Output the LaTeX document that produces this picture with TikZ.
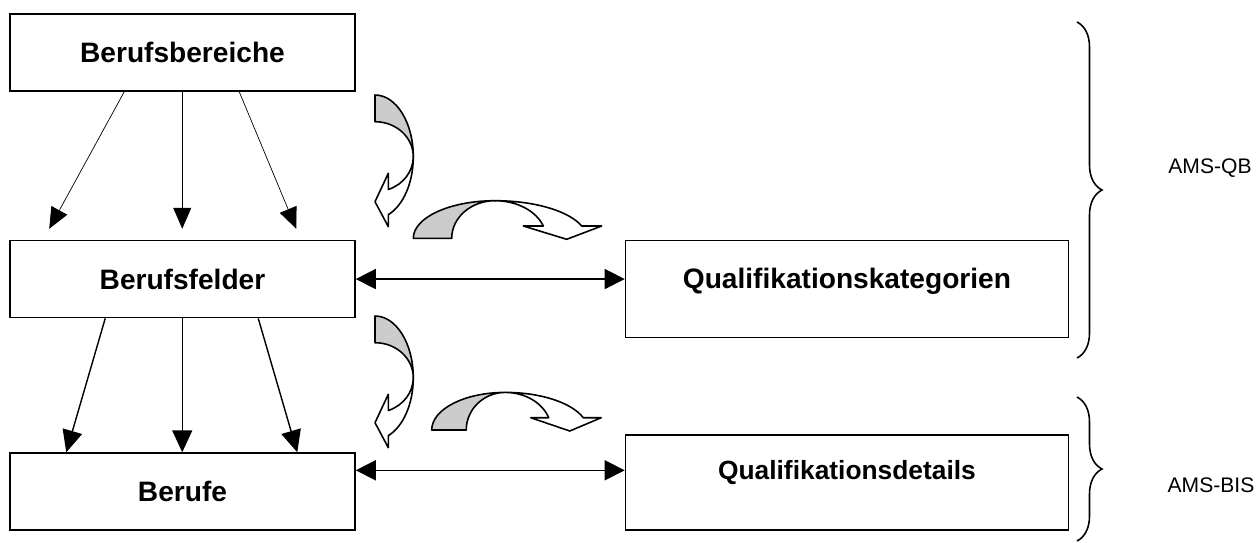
\documentclass[tikz,border=0pt]{standalone}
\usepackage{fontspec}
\setmainfont{Liberation Sans}
\usepackage{xcolor}
\definecolor{bendGray}{HTML}{CCCCCC}
\usetikzlibrary{arrows.meta,positioning,calc,decorations.pathreplacing}
\tikzset{
    box/.style={
        draw,
        rectangle,
        line width=0.9pt,
        minimum width=6.9cm,
        minimum height=1.54cm,
        inner sep=0pt,
        align=center,
        font=\fontsize{16}{19}\selectfont\bfseries
    },
    qbox/.style={
        box,
        minimum width=8.86cm,
        minimum height=0pt,
        inner ysep=0pt
    },
    thinarrow/.style={
        -{Triangle[length=0.42cm,width=0.36cm]},
        line width=0.4pt
    },
    midarrow/.style={
        -{Triangle[length=0.44cm,width=0.4cm]},
        line width=0.8pt
    },
    bothways/.style={
        {Triangle[length=0.4cm,width=0.4cm]}-{Triangle[length=0.4cm,width=0.4cm]},
        line width=0.9pt
    },
    brace/.style={
        decorate,
        decoration={brace, amplitude=0.5cm},
        line width=0.9pt
    },
    sidelabel/.style={
        font=\fontsize{12}{14}\selectfont
    },
    bendback/.pic={
        \filldraw[fill=bendGray, line width=0.9pt, line join=round]
            (0,0) .. controls (21.2,0) and (38.3,27.6) .. (38.3,61.7)
            .. controls (38.3,42.4) and (21.2,26.7) .. (0,26.7) -- cycle;
        \filldraw[fill=white, line width=0.9pt, line join=round]
            (38.3,61.7) .. controls (38.3,87.5) and (28.3,110.6) .. (13.3,119.6)
            -- (13.3,131.7) -- (0,106.7) -- (13.3,78.3) -- (13.3,94.5)
            .. controls (28.3,89.5) and (38.3,76.3) .. (38.3,61.7) -- cycle;
    },
    bendover/.pic={
        \filldraw[fill=bendGray, line width=0.9pt, line join=round]
            (0,0) -- (38.4,0) .. controls (38.4,-20.8) and (57.8,-37.6) .. (81.7,-37.6)
            .. controls (36.6,-37.6) and (0,-20.8) .. (0,0) -- cycle;
        \filldraw[fill=white, line width=0.9pt, line join=round]
            (81.7,-37.6) .. controls (120.8,-37.6) and (155.6,-27.4) .. (168.4,-12.3)
            -- (188.4,-12.3) -- (153.4,1) -- (110,-12.3) -- (130,-12.3)
            .. controls (122.9,-27.4) and (103.5,-37.6) .. (81.7,-37.6) -- cycle;
    }
}

\begin{document}
\begin{tikzpicture}[x=0.02cm, y=-0.02cm]
    \useasboundingbox (0,0) rectangle (1257,542);

    % Berufsebenen
    \node[box] (bereiche) at (182.5,52.5) {Berufsbereiche};
    \node[box, below=2.96cm of bereiche] (felder) {Berufsfelder};
    \node[box, below=2.68cm of felder] (berufe) {Berufe};

    % Qualifikationen
    \node[qbox, right=5.38cm of felder.north east, anchor=north west,
          text height=0.954cm, text depth=0.986cm] (kat) {Qualifikationskategorien};
    \node[qbox, below=1.92cm of kat, font=\fontsize{15}{18}\selectfont\bfseries,
          text height=0.89cm, text depth=1.01cm] (det) {Qualifikationsdetails};

    % Verbindungen nach unten
    \foreach \a/\b in {115/40, 173/173, 230/287}
        \draw[thinarrow] ($(bereiche.south west)+(\a,0)$) -- ($(felder.north west)+(\b,-11)$);
    \foreach \a/\b in {96/57, 173/173, 249/288}
        \draw[midarrow] ($(felder.south west)+(\a,0)$) -- ($(berufe.north west)+(\b,0)$);

    % Zuordnungen
    \coordinate (berufeR) at ($(berufe.north east)+(0,18)$);
    \draw[bothways] (felder.east) -- (felder.east -| kat.west);
    \draw[bothways] (berufeR) -- (berufeR -| det.west);

    % Blockpfeile
    \pic (turnA) at (375,95) {bendback};
    \pic (overA) at (413.3,238.3) {bendover};
    \pic (turnB) at (375,316) {bendback};
    \pic[xscale=0.9] (overB) at (431.7,430) {bendover};

    % Klammern
    \coordinate (qbTop) at (1077,22);
    \coordinate (qbBot) at (1077,358);
    \coordinate (bisTop) at (1077,397);
    \coordinate (bisBot) at (1077,541);
    \draw[brace] (qbTop) -- (qbBot);
    \draw[brace] (bisTop) -- (bisBot);
    \node[sidelabel] (qb) at (1210,168) {AMS-QB};
    \node[sidelabel] (bis) at (1211,485) {AMS-BIS};
\end{tikzpicture}
\end{document}
